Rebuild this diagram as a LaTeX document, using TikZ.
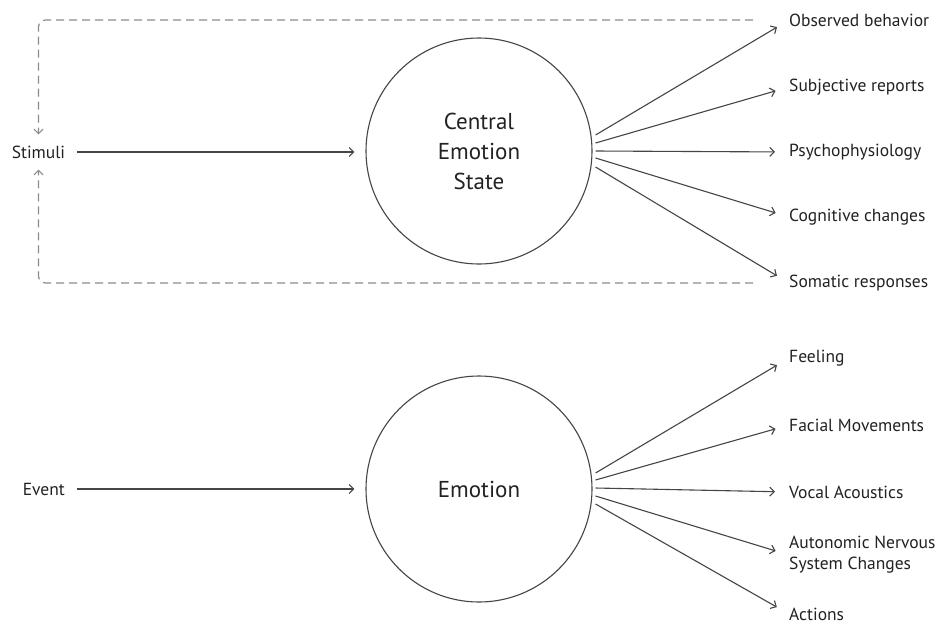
\documentclass[tikz,border=0pt]{standalone}
\usepackage{fontspec}
\setmainfont{PT Sans}
\usetikzlibrary{arrows.meta,calc}
\definecolor{txt}{HTML}{222222}
\definecolor{ln}{HTML}{454545}
\definecolor{dsh}{HTML}{8C8C8C}
\begin{document}
\begin{tikzpicture}[x=1pt,y=-1pt,
  lbl/.style={font=\fontsize{17.5}{21}\selectfont, text=txt, inner sep=0pt, anchor=west, align=left},
  circ/.style={circle, draw=ln, line width=1.1pt, minimum size=226pt, inner sep=0pt, align=center, text=txt, font=\fontsize{23}{30}\selectfont},
  arr/.style={draw=ln, line width=1.1pt, -{Straight Barb[length=4.5pt,width=9pt]}},
  fb/.style={draw=dsh, line width=1.2pt, dash pattern=on 8pt off 5pt, rounded corners=7pt, -{Straight Barb[length=4.5pt,width=9pt]}}]
\useasboundingbox[fill=white] (0,0) rectangle (945,630);
% top
\node[circ] (c1) at (479,151) {Central\\Emotion\\State};
\node[lbl, anchor=center] (s) at (38.5,152) {Stimuli};
\node[lbl] (o1) at (789,20) {Observed behavior};
\node[lbl] (o2) at (789,87) {Subjective reports};
\node[lbl] (o3) at (789,152) {Psychophysiology};
\node[lbl] (o4) at (789,217) {Cognitive changes};
\node[lbl] (o5) at (789,283) {Somatic responses};
\draw[arr, shorten <=12pt, shorten >=11pt] (s.east) -- (s.east -| c1.west);
\draw[arr, shorten >=14pt] ($(c1.east)+(3,-16)$) -- (o1.west);
\draw[arr, shorten >=14pt] ($(c1.east)+(3,-8)$) -- (o2.west);
\draw[arr, shorten >=14pt] ($(c1.east)+(3,0)$) -- (o3.west);
\draw[arr, shorten >=14pt] ($(c1.east)+(3,7)$) -- (o4.west);
\draw[arr, shorten >=14pt] ($(c1.east)+(3,16)$) -- (o5.west);
\draw[fb] ([xshift=-36pt]o1.west) -| ([yshift=11pt]s.north);
\draw[fb] ([xshift=-36pt]o5.west) -| ([yshift=-11pt]s.south);
% bottom
\node[circ] (c2) at (479,489) {Emotion};
\node[lbl, anchor=east] (e) at (65,489) {Event};
\node[lbl] (p1) at (789,358) {Feeling};
\node[lbl] (p2) at (789,425) {Facial Movements};
\node[lbl] (p3) at (789,492) {Vocal Acoustics};
\node[lbl] (p4) at (789,555) {Autonomic Nervous\\System Changes};
\node[lbl] (p5) at (789,614) {Actions};
\draw[arr, shorten <=12pt, shorten >=11pt] (e.east) -- (e.east -| c2.west);
\draw[arr, shorten >=14pt] ($(c2.east)+(3,-16)$) -- (p1.west);
\draw[arr, shorten >=14pt] ($(c2.east)+(3,-9)$) -- (p2.west);
\draw[arr, shorten >=14pt] ($(c2.east)+(3,-1)$) -- (p3.west);
\draw[arr, shorten >=14pt] ($(c2.east)+(3,7)$) -- (p4.west);
\draw[arr, shorten >=14pt] ($(c2.east)+(3,15)$) -- (p5.west);
\end{tikzpicture}
\end{document}
